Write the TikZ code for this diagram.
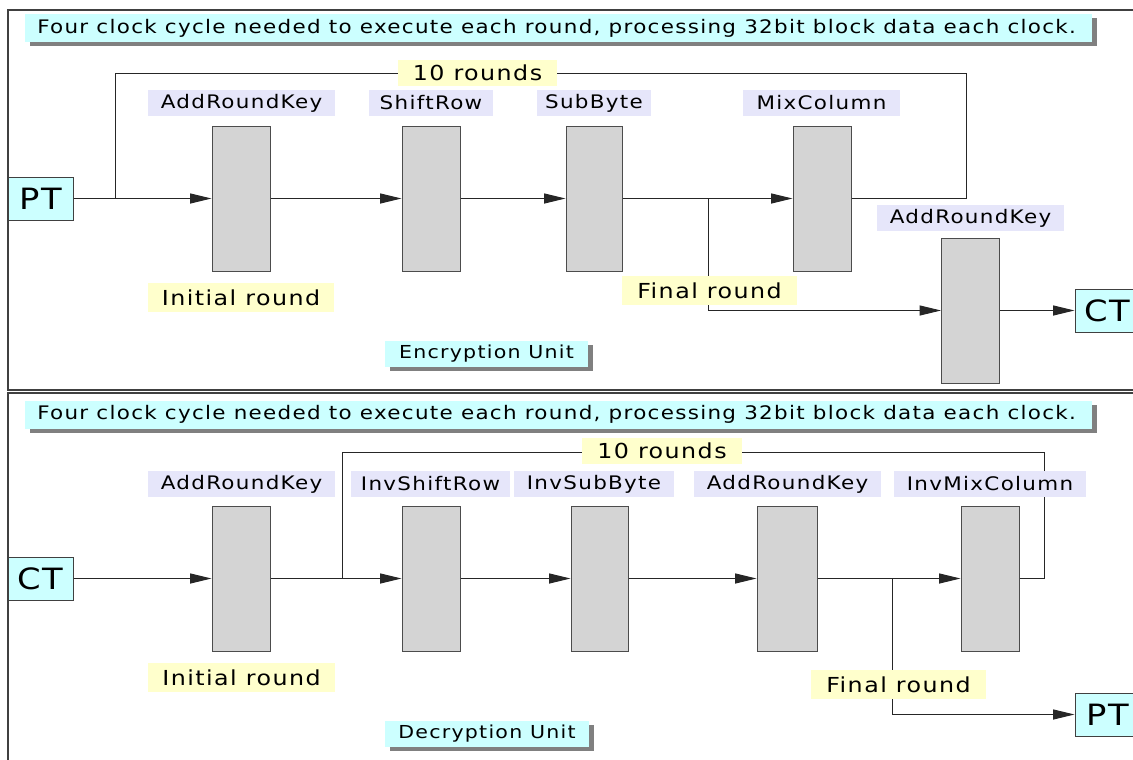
\documentclass[tikz,border=0pt]{standalone}
\usepackage{fontspec}
\setmainfont{DejaVu Sans}
\newfontfamily\spaced{DejaVu Sans}[LetterSpace=7,FakeStretch=1.15]
\usetikzlibrary{arrows.meta,shadows}
\definecolor{cyanbg}{HTML}{CCFFFF}
\definecolor{lavbg}{HTML}{E6E6FA}
\definecolor{yelbg}{HTML}{FFFFCC}
\definecolor{shadowgray}{HTML}{808080}
\tikzset{
  blk/.style={draw=black!70, fill=black!17, line width=0.75pt, minimum width=58*0.75pt, minimum height=145*0.75pt, inner sep=0pt},
  lav/.style={fill=lavbg, inner sep=0pt, minimum height=26*0.75pt, font=\spaced\fontsize{14}{16}\selectfont},
  yel/.style={fill=yelbg, inner sep=0pt, minimum height=29*0.75pt, font=\spaced\fontsize{15.5}{17}\selectfont},
  yelten/.style={fill=yelbg, inner sep=0pt, minimum height=26*0.75pt, font=\spaced\fontsize{15.5}{17}\selectfont},
  io/.style={draw=black!75, fill=cyanbg, line width=0.75pt, inner sep=0pt, minimum width=65*0.75pt, minimum height=43*0.75pt, font=\spaced\fontsize{22}{24}\selectfont},
  unitlbl/.style={fill=cyanbg, inner sep=0pt, minimum height=26*0.75pt, font=\spaced\fontsize{13.4}{15}\selectfont,
    drop shadow={shadow xshift=3.75pt, shadow yshift=-3pt, fill=shadowgray, opacity=1}},
  hdrbox/.style={fill=cyanbg, inner sep=0pt, minimum width=1067*0.75pt, minimum height=28*0.75pt,
    drop shadow={shadow xshift=3.75pt, shadow yshift=-3pt, fill=shadowgray, opacity=1}},
  hdrtext/.style={anchor=west, inner sep=0pt, font=\spaced\fontsize{14}{16}\selectfont},
  conn/.style={line width=0.75pt, draw=black!85},
  arr/.style={conn, -{Triangle[length=16pt,width=7.5pt]}},
  panel/.style={draw=black!75, line width=1.3pt}
}
\begin{document}
\begin{tikzpicture}[x=0.75pt,y=-0.75pt]
\clip (0,0) rectangle (1133,760);
\fill[white] (0,0) rectangle (1133,760);
% panels
\draw[panel] (8,10) rectangle (1150,390);
\draw[panel] (8,393) rectangle (1150,775);

% ===== Encryption unit =====
\node[hdrbox] (hdrE) at (558.5,28) {};
\node[hdrtext] (hdrEt) at (37,28) {Four clock cycle needed to execute each round, processing 32bit block data each clock.};
\node[io] (PTe) at (40.5,198.5) {PT};
\node[blk] (e1) at (241,198.5) {};
\node[blk] (e2) at (431,198.5) {};
\node[blk, minimum width=56*0.75pt] (e3) at (594,198.5) {};
\node[blk] (e4) at (822,198.5) {};
\node[blk] (e5) at (970.5,310.5) {};
\node[io] (CTe) at (1107.5,310.5) {CT};
\coordinate (eR) at (966,198.5);
\coordinate (eRT) at (966,73);
\coordinate (eLT) at (115,73);
\coordinate (eJ) at (115,198.5);
\coordinate (eB) at (708,198.5);
\coordinate (eBd) at (708,310.5);
\draw[arr] (PTe) -- (e1);
\draw[arr] (e1) -- (e2);
\draw[arr] (e2) -- (e3);
\draw[arr] (e3) -- (e4);
\draw[conn] (e4) -- (eR) -- (eRT) -- (eLT) -- (eJ);
\draw[conn] (eB) -- (eBd);
\draw[arr] (eBd) -- (e5);
\draw[arr] (e5) -- (CTe);
\node[lav, minimum width=187*0.75pt] (le1) at (241.5,103) {AddRoundKey};
\node[lav, minimum width=124*0.75pt] (le2) at (431,103) {ShiftRow};
\node[lav, minimum width=114*0.75pt] (le3) at (594,103) {SubByte};
\node[lav, minimum width=157*0.75pt] (le4) at (821.5,103) {MixColumn};
\node[lav, minimum width=187*0.75pt] (le5) at (970.5,218) {AddRoundKey};
\node[yelten, minimum width=159*0.75pt] (tre) at (477.5,73) {10 rounds};
\node[yel, minimum width=186*0.75pt] (ire) at (241,297.5) {Initial round};
\node[yel, minimum width=175*0.75pt] (fre) at (709.5,290.5) {Final round};
\node[unitlbl, minimum width=203*0.75pt] (ue) at (486.5,354) {Encryption Unit};

% ===== Decryption unit =====
\node[hdrbox] (hdrD) at (558.5,414.5) {};
\node[hdrtext] (hdrDt) at (37,414.5) {Four clock cycle needed to execute each round, processing 32bit block data each clock.};
\node[io] (CTd) at (40.5,578.5) {CT};
\node[blk] (d1) at (241,578.5) {};
\node[blk] (d2) at (431,578.5) {};
\node[blk, minimum width=57*0.75pt] (d3) at (599.5,578.5) {};
\node[blk, minimum width=60*0.75pt] (d4) at (787,578.5) {};
\node[blk] (d5) at (990,578.5) {};
\node[io] (PTd) at (1107.5,714.5) {PT};
\coordinate (dR) at (1044,578.5);
\coordinate (dRT) at (1044,452);
\coordinate (dLT) at (342,452);
\coordinate (dJ) at (342,578.5);
\coordinate (dB) at (892,578.5);
\coordinate (dBd) at (892,714.5);
\draw[arr] (CTd) -- (d1);
\draw[arr] (d1) -- (d2);
\draw[arr] (d2) -- (d3);
\draw[arr] (d3) -- (d4);
\draw[arr] (d4) -- (d5);
\draw[conn] (d5) -- (dR) -- (dRT) -- (dLT) -- (dJ);
\draw[conn] (dB) -- (dBd);
\draw[arr] (dBd) -- (PTd);
\node[lav, minimum width=187*0.75pt] (ld1) at (241.5,484) {AddRoundKey};
\node[lav, minimum width=159*0.75pt] (ld2) at (430.5,484) {InvShiftRow};
\node[lav, minimum width=160*0.75pt] (ld3) at (594,484) {InvSubByte};
\node[lav, minimum width=187*0.75pt] (ld4) at (787.5,484) {AddRoundKey};
\node[lav, minimum width=192*0.75pt] (ld5) at (990,484) {InvMixColumn};
\node[yelten, minimum width=160*0.75pt] (trd) at (662,451) {10 rounds};
\node[yel, minimum width=187*0.75pt] (ird) at (241.5,677.5) {Initial round};
\node[yel, minimum width=175*0.75pt] (frd) at (898.5,684.5) {Final round};
\node[unitlbl, minimum width=204*0.75pt] (ud) at (487,734) {Decryption Unit};
\end{tikzpicture}
\end{document}
